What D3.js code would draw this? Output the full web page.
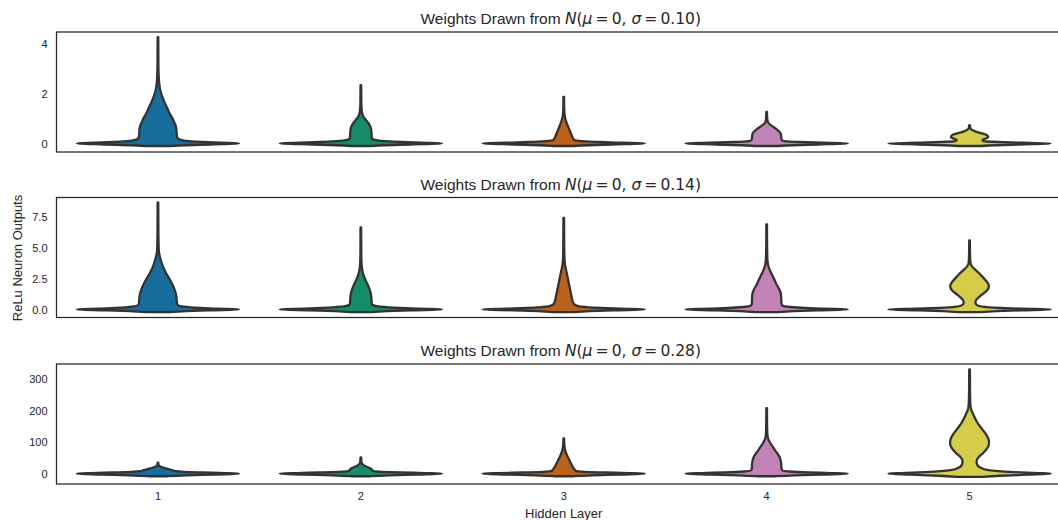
<!DOCTYPE html>
<html>
<head>
<meta charset="utf-8">
<script src="https://cdn.jsdelivr.net/npm/d3@7"></script>
<style>
  html, body { margin: 0; padding: 0; background: #fff; overflow: hidden; }
  svg { display: block; }
  text { font-family: "Liberation Sans", Arial, sans-serif; fill: #262626; }
</style>
</head>
<body>
<svg id="chart" width="1058" height="520"></svg>
<script>
// ---- data -------------------------------------------------------------
const layers = ["1", "2", "3", "4", "5"];
const sigmas = ["0.10", "0.14", "0.28"];

const yTicks010 = [0, 2, 4];
const yTicks014 = [0, 2.5, 5, 7.5];
const yTicks028 = [0, 100, 200, 300];

const yDomain010 = [-0.34, 4.47];
const yDomain014 = [-0.65, 9.07];
const yDomain028 = [-32.7, 348.5];

// violin profiles per hidden layer: [output value, relative density width]
const violins010 = [
  [[-0.1,0.15],[-0.07,0.35],[-0.04,0.65],[0,1],[0.03,0.78],[0.06,0.55],[0.1,0.38],[0.15,0.28],[0.22,0.24],[0.35,0.232],[0.55,0.228],[0.7,0.22],[0.85,0.2],[1.0,0.18],[1.2,0.145],[1.45,0.11],[1.7,0.075],[1.95,0.045],[2.2,0.025],[2.45,0.014],[2.8,0.008],[3.4,0.005],[4.26,0.004]],
  [[-0.1,0.12],[-0.07,0.3],[-0.04,0.6],[0,1],[0.03,0.75],[0.06,0.5],[0.1,0.3],[0.15,0.17],[0.2,0.135],[0.35,0.132],[0.55,0.128],[0.7,0.115],[0.85,0.085],[0.95,0.06],[1.05,0.038],[1.15,0.022],[1.3,0.012],[1.6,0.006],[2.34,0.004]],
  [[-0.1,0.12],[-0.07,0.3],[-0.04,0.6],[0,1],[0.03,0.72],[0.06,0.45],[0.1,0.22],[0.14,0.13],[0.2,0.115],[0.35,0.095],[0.55,0.07],[0.75,0.045],[0.9,0.028],[1.05,0.015],[1.2,0.009],[1.5,0.005],[1.87,0.004]],
  [[-0.1,0.14],[-0.07,0.32],[-0.04,0.62],[0,1],[0.03,0.7],[0.06,0.4],[0.1,0.22],[0.14,0.185],[0.25,0.18],[0.38,0.175],[0.48,0.155],[0.58,0.12],[0.66,0.085],[0.74,0.05],[0.8,0.028],[0.87,0.015],[1.0,0.007],[1.27,0.004]],
  [[-0.1,0.14],[-0.07,0.32],[-0.04,0.62],[0,1],[0.03,0.65],[0.06,0.35],[0.1,0.17],[0.15,0.16],[0.2,0.2],[0.25,0.23],[0.3,0.225],[0.36,0.2],[0.42,0.14],[0.47,0.085],[0.52,0.045],[0.56,0.025],[0.62,0.01],[0.74,0.004]]
];

const violins014 = [
  [[-0.22,0.15],[-0.14,0.35],[-0.07,0.65],[0,1],[0.06,0.75],[0.12,0.52],[0.2,0.36],[0.3,0.26],[0.45,0.235],[0.7,0.232],[1.0,0.228],[1.3,0.22],[1.6,0.205],[2.0,0.18],[2.4,0.148],[2.8,0.112],[3.2,0.08],[3.6,0.055],[4.0,0.035],[4.5,0.016],[5.0,0.009],[6.0,0.006],[7.2,0.005],[8.67,0.004]],
  [[-0.22,0.13],[-0.14,0.32],[-0.07,0.62],[0,1],[0.06,0.72],[0.12,0.48],[0.2,0.3],[0.3,0.18],[0.4,0.138],[0.6,0.133],[0.9,0.13],[1.2,0.125],[1.5,0.115],[1.8,0.098],[2.1,0.078],[2.4,0.056],[2.7,0.038],[3.0,0.024],[3.3,0.015],[3.8,0.008],[4.8,0.005],[6.64,0.004]],
  [[-0.22,0.13],[-0.14,0.32],[-0.07,0.62],[0,1],[0.06,0.7],[0.12,0.45],[0.2,0.27],[0.3,0.165],[0.45,0.125],[0.7,0.108],[1.0,0.098],[1.4,0.085],[1.8,0.073],[2.2,0.06],[2.6,0.048],[3.0,0.035],[3.3,0.025],[3.6,0.016],[4.0,0.01],[5.0,0.006],[6.2,0.005],[7.42,0.004]],
  [[-0.22,0.14],[-0.14,0.33],[-0.07,0.63],[0,1],[0.06,0.72],[0.12,0.47],[0.2,0.29],[0.3,0.2],[0.45,0.183],[0.8,0.18],[1.1,0.178],[1.4,0.17],[1.7,0.15],[2.0,0.125],[2.35,0.1],[2.7,0.075],[3.0,0.052],[3.3,0.032],[3.6,0.018],[3.9,0.011],[4.5,0.007],[5.5,0.005],[6.9,0.004]],
  [[-0.22,0.14],[-0.14,0.33],[-0.07,0.63],[0,1],[0.06,0.65],[0.12,0.38],[0.2,0.2],[0.3,0.11],[0.45,0.078],[0.6,0.072],[0.8,0.085],[1.0,0.115],[1.2,0.152],[1.45,0.2],[1.7,0.232],[1.9,0.238],[2.1,0.228],[2.35,0.2],[2.6,0.165],[2.85,0.13],[3.05,0.1],[3.25,0.065],[3.45,0.035],[3.65,0.016],[3.9,0.009],[4.5,0.006],[5.6,0.004]]
];

const violins028 = [
  [[-8,0.12],[-5,0.35],[-2.5,0.7],[0,1],[2,0.82],[4,0.55],[6,0.32],[8,0.22],[10,0.19],[13,0.15],[16,0.11],[19,0.07],[22,0.035],[25,0.015],[29,0.007],[35,0.004]],
  [[-8,0.12],[-5,0.35],[-2.5,0.7],[0,1],[2,0.8],[4,0.5],[6,0.26],[8,0.16],[11,0.138],[15,0.128],[19,0.1],[23,0.065],[27,0.035],[31,0.018],[36,0.009],[44,0.005],[52,0.004]],
  [[-8,0.12],[-5,0.35],[-2.5,0.7],[0,1],[2,0.8],[4,0.5],[6,0.25],[9,0.15],[14,0.13],[22,0.11],[32,0.09],[43,0.07],[54,0.048],[65,0.03],[75,0.017],[85,0.01],[97,0.006],[112,0.004]],
  [[-8,0.12],[-5,0.35],[-2.5,0.7],[0,1],[2,0.8],[4,0.52],[7,0.28],[11,0.19],[18,0.182],[30,0.18],[43,0.172],[55,0.155],[65,0.13],[76,0.1],[86,0.074],[96,0.048],[107,0.025],[117,0.013],[130,0.008],[160,0.005],[208,0.004]],
  [[-10,0.15],[-6.5,0.38],[-3,0.72],[0,1],[2,0.85],[5,0.55],[9,0.32],[13,0.2],[17,0.155],[22,0.115],[28,0.095],[36,0.087],[44,0.09],[55,0.12],[65,0.165],[78,0.21],[90,0.235],[100,0.24],[112,0.23],[124,0.205],[135,0.175],[150,0.13],[165,0.09],[180,0.06],[192,0.04],[200,0.025],[210,0.015],[225,0.009],[260,0.006],[300,0.005],[331,0.004]]
];

// ---- styling ----------------------------------------------------------
const palette = ["#176d9c", "#158b6a", "#ba611b", "#c283b6", "#d5cc4a"];
const outline = "#333333";
const spineColor = "#262626";

const panels = [
  { sigma: sigmas[0], ticks: yTicks010, fmt: d3.format("d"),   domain: yDomain010, violins: violins010 },
  { sigma: sigmas[1], ticks: yTicks014, fmt: d3.format(".1f"), domain: yDomain014, violins: violins014 },
  { sigma: sigmas[2], ticks: yTicks028, fmt: d3.format("d"),   domain: yDomain028, violins: violins028 }
];

// ---- layout -----------------------------------------------------------
const axLeft = 56.5, axRight = 1071;   // axes run slightly past the figure edge
const panelTop = [32, 197.5, 364];
const panelH = 120;

const svg = d3.select("#chart");

const x = d3.scaleBand().domain(layers).range([axLeft, axRight]).padding(0);
const halfWidth = d3.scaleLinear().domain([0, 1]).range([0, x.bandwidth() * 0.4]);

panels.forEach((p, i) => {
  const g = svg.append("g").attr("transform", `translate(0,${panelTop[i]})`);
  const y = d3.scaleLinear().domain(p.domain).range([panelH, 0]);

  // violins
  p.violins.forEach((prof, j) => {
    const cx = x(layers[j]) + x.bandwidth() / 2;
    const area = d3.area()
      .y(d => y(d[0]))
      .x0(d => cx - halfWidth(d[1]))
      .x1(d => cx + halfWidth(d[1]))
      .curve(d3.curveMonotoneY);
    g.append("path")
      .attr("d", area(prof))
      .attr("fill", palette[j])
      .attr("stroke", outline)
      .attr("stroke-width", 2.3)
      .attr("stroke-linejoin", "round");
  });

  // frame
  g.append("rect")
    .attr("x", axLeft).attr("y", 0)
    .attr("width", axRight - axLeft).attr("height", panelH)
    .attr("fill", "none")
    .attr("stroke", spineColor)
    .attr("stroke-width", 1.25);

  // y axis
  const ya = g.append("g")
    .attr("transform", `translate(${axLeft},0)`)
    .call(d3.axisLeft(y).tickValues(p.ticks).tickFormat(p.fmt).tickSize(0).tickPadding(9));
  ya.select(".domain").remove();
  ya.selectAll("text")
    .style("font-family", '"Liberation Sans", Arial, sans-serif')
    .style("font-size", "11px")
    .attr("fill", "#262626");

  // title with math-styled part
  const mathFont = '"DejaVu Sans", sans-serif';
  const t = g.append("text")
    .attr("x", (axLeft + axRight) / 2 - 3)
    .attr("y", -8)
    .attr("text-anchor", "middle")
    .style("font-size", "15.5px");
  t.append("tspan").text("Weights Drawn from ");
  t.append("tspan").style("font-family", mathFont).style("font-style", "italic").text("N");
  t.append("tspan").style("font-family", mathFont).text("(");
  t.append("tspan").style("font-family", mathFont).style("font-style", "italic").text("μ");
  t.append("tspan").style("font-family", mathFont).text("\u2009=\u20090, ");
  t.append("tspan").style("font-family", mathFont).style("font-style", "italic").text("σ");
  t.append("tspan").style("font-family", mathFont).text(`\u2009=\u2009${p.sigma})`);

  // x axis on the bottom panel only
  if (i === panels.length - 1) {
    const xa = g.append("g")
      .attr("transform", `translate(0,${panelH})`)
      .call(d3.axisBottom(x).tickSize(0).tickPadding(8));
    xa.select(".domain").remove();
    xa.selectAll("text")
      .style("font-family", '"Liberation Sans", Arial, sans-serif')
      .style("font-size", "11px")
      .attr("fill", "#262626");
  }
});

// axis labels
svg.append("text")
  .attr("x", (axLeft + axRight) / 2)
  .attr("y", 518)
  .attr("text-anchor", "middle")
  .style("font-size", "13px")
  .text("Hidden Layer");

svg.append("text")
  .attr("transform", "translate(22,258) rotate(-90)")
  .attr("text-anchor", "middle")
  .style("font-size", "13px")
  .text("ReLu Neuron Outputs");
</script>
</body>
</html>
